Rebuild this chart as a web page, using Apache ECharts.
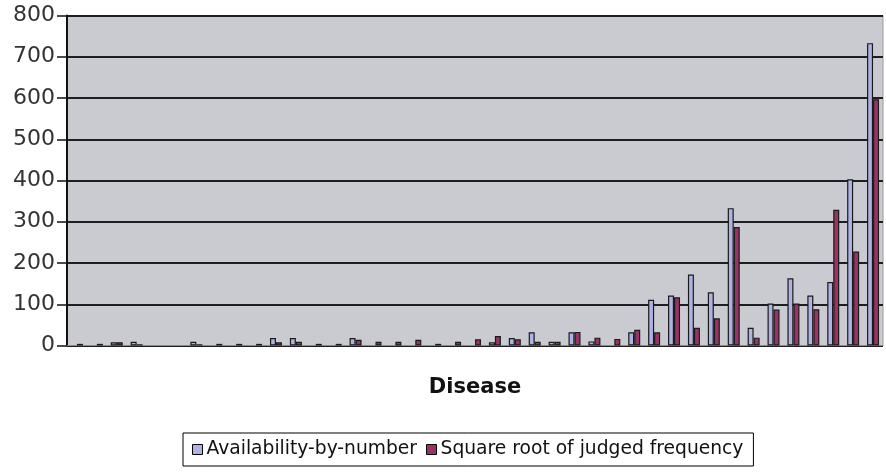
<!DOCTYPE html>
<html>
<head>
<meta charset="utf-8">
<script src="https://cdn.jsdelivr.net/npm/echarts@6/dist/echarts.min.js"></script>
<style>
html,body{margin:0;padding:0;background:#fff;}
#chart{width:886px;height:474px;}
</style>
</head>
<body>
<div id="chart"></div>
<script>
const categories = Array.from({length: 41}, (_, i) => 'Disease ' + (i + 1));
const availabilityByNumber = [null,null,8,9,null,null,9,null,null,null,18,18,null,null,18,null,null,null,null,null,null,8,18,32,9,32,10,null,32,111,121,172,129,333,43,102,163,121,154,403,733];
const sqrtJudgedFrequency = [4,4,8,3,null,null,3,4,4,4,8,9,4,4,14,9,9,14,4,9,15,23,15,9,9,33,19,16,38,32,117,43,66,287,19,87,102,88,329,228,597];
const seriesNames = ['Availability-by-number', 'Square root of judged frequency'];
const xAxisTitle = 'Disease';

const chart = echarts.init(document.getElementById('chart'), null, {renderer: 'canvas'});
chart.setOption({
  animation: false,
  backgroundColor: '#ffffff',
  grid: {
    left: 67, right: 3, top: 15.5, bottom: 128.5,
    show: true, backgroundColor: '#CACBD0', borderColor: '#9a9a9a', borderWidth: 1
  },
  legend: {
    left: 183, top: 433,
    data: seriesNames,
    icon: 'rect',
    itemWidth: 10, itemHeight: 10, itemGap: 9,
    borderColor: '#000', borderWidth: 1,
    padding: [7, 10, 7, 9],
    textStyle: {fontFamily: 'DejaVu Sans', fontSize: 18.7, color: '#111', padding: [0, 0, 0, -1]},
    itemStyle: {borderColor: '#000', borderWidth: 1}
  },
  xAxis: {
    type: 'category',
    data: categories,
    axisLine: {lineStyle: {color: '#8a8a8a', width: 1}},
    axisTick: {show: false},
    axisLabel: {show: false},
    name: xAxisTitle,
    nameLocation: 'middle',
    nameGap: 32,
    nameTextStyle: {fontFamily: 'DejaVu Sans', fontWeight: 'bold', fontSize: 21, color: '#111'}
  },
  yAxis: {
    type: 'value',
    min: 0, max: 800, interval: 100,
    axisLine: {show: true, lineStyle: {color: '#111', width: 2}},
    axisTick: {show: true, length: 10, lineStyle: {color: '#111', width: 1.5}},
    axisLabel: {fontFamily: 'DejaVu Sans', fontSize: 22, color: '#333', margin: 12},
    splitLine: {lineStyle: {color: '#1e1e1e', width: 2}}
  },
  series: [
    {
      name: seriesNames[0], type: 'bar', data: availabilityByNumber,
      barWidth: 6, barGap: '0%',
      itemStyle: {color: '#AFB3E3', borderColor: '#1a1a1a', borderWidth: 1.2}
    },
    {
      name: seriesNames[1], type: 'bar', data: sqrtJudgedFrequency,
      barWidth: 6, barGap: '0%',
      itemStyle: {color: '#993366', borderColor: '#1a1a1a', borderWidth: 1.2}
    }
  ]
});
</script>
</body>
</html>
